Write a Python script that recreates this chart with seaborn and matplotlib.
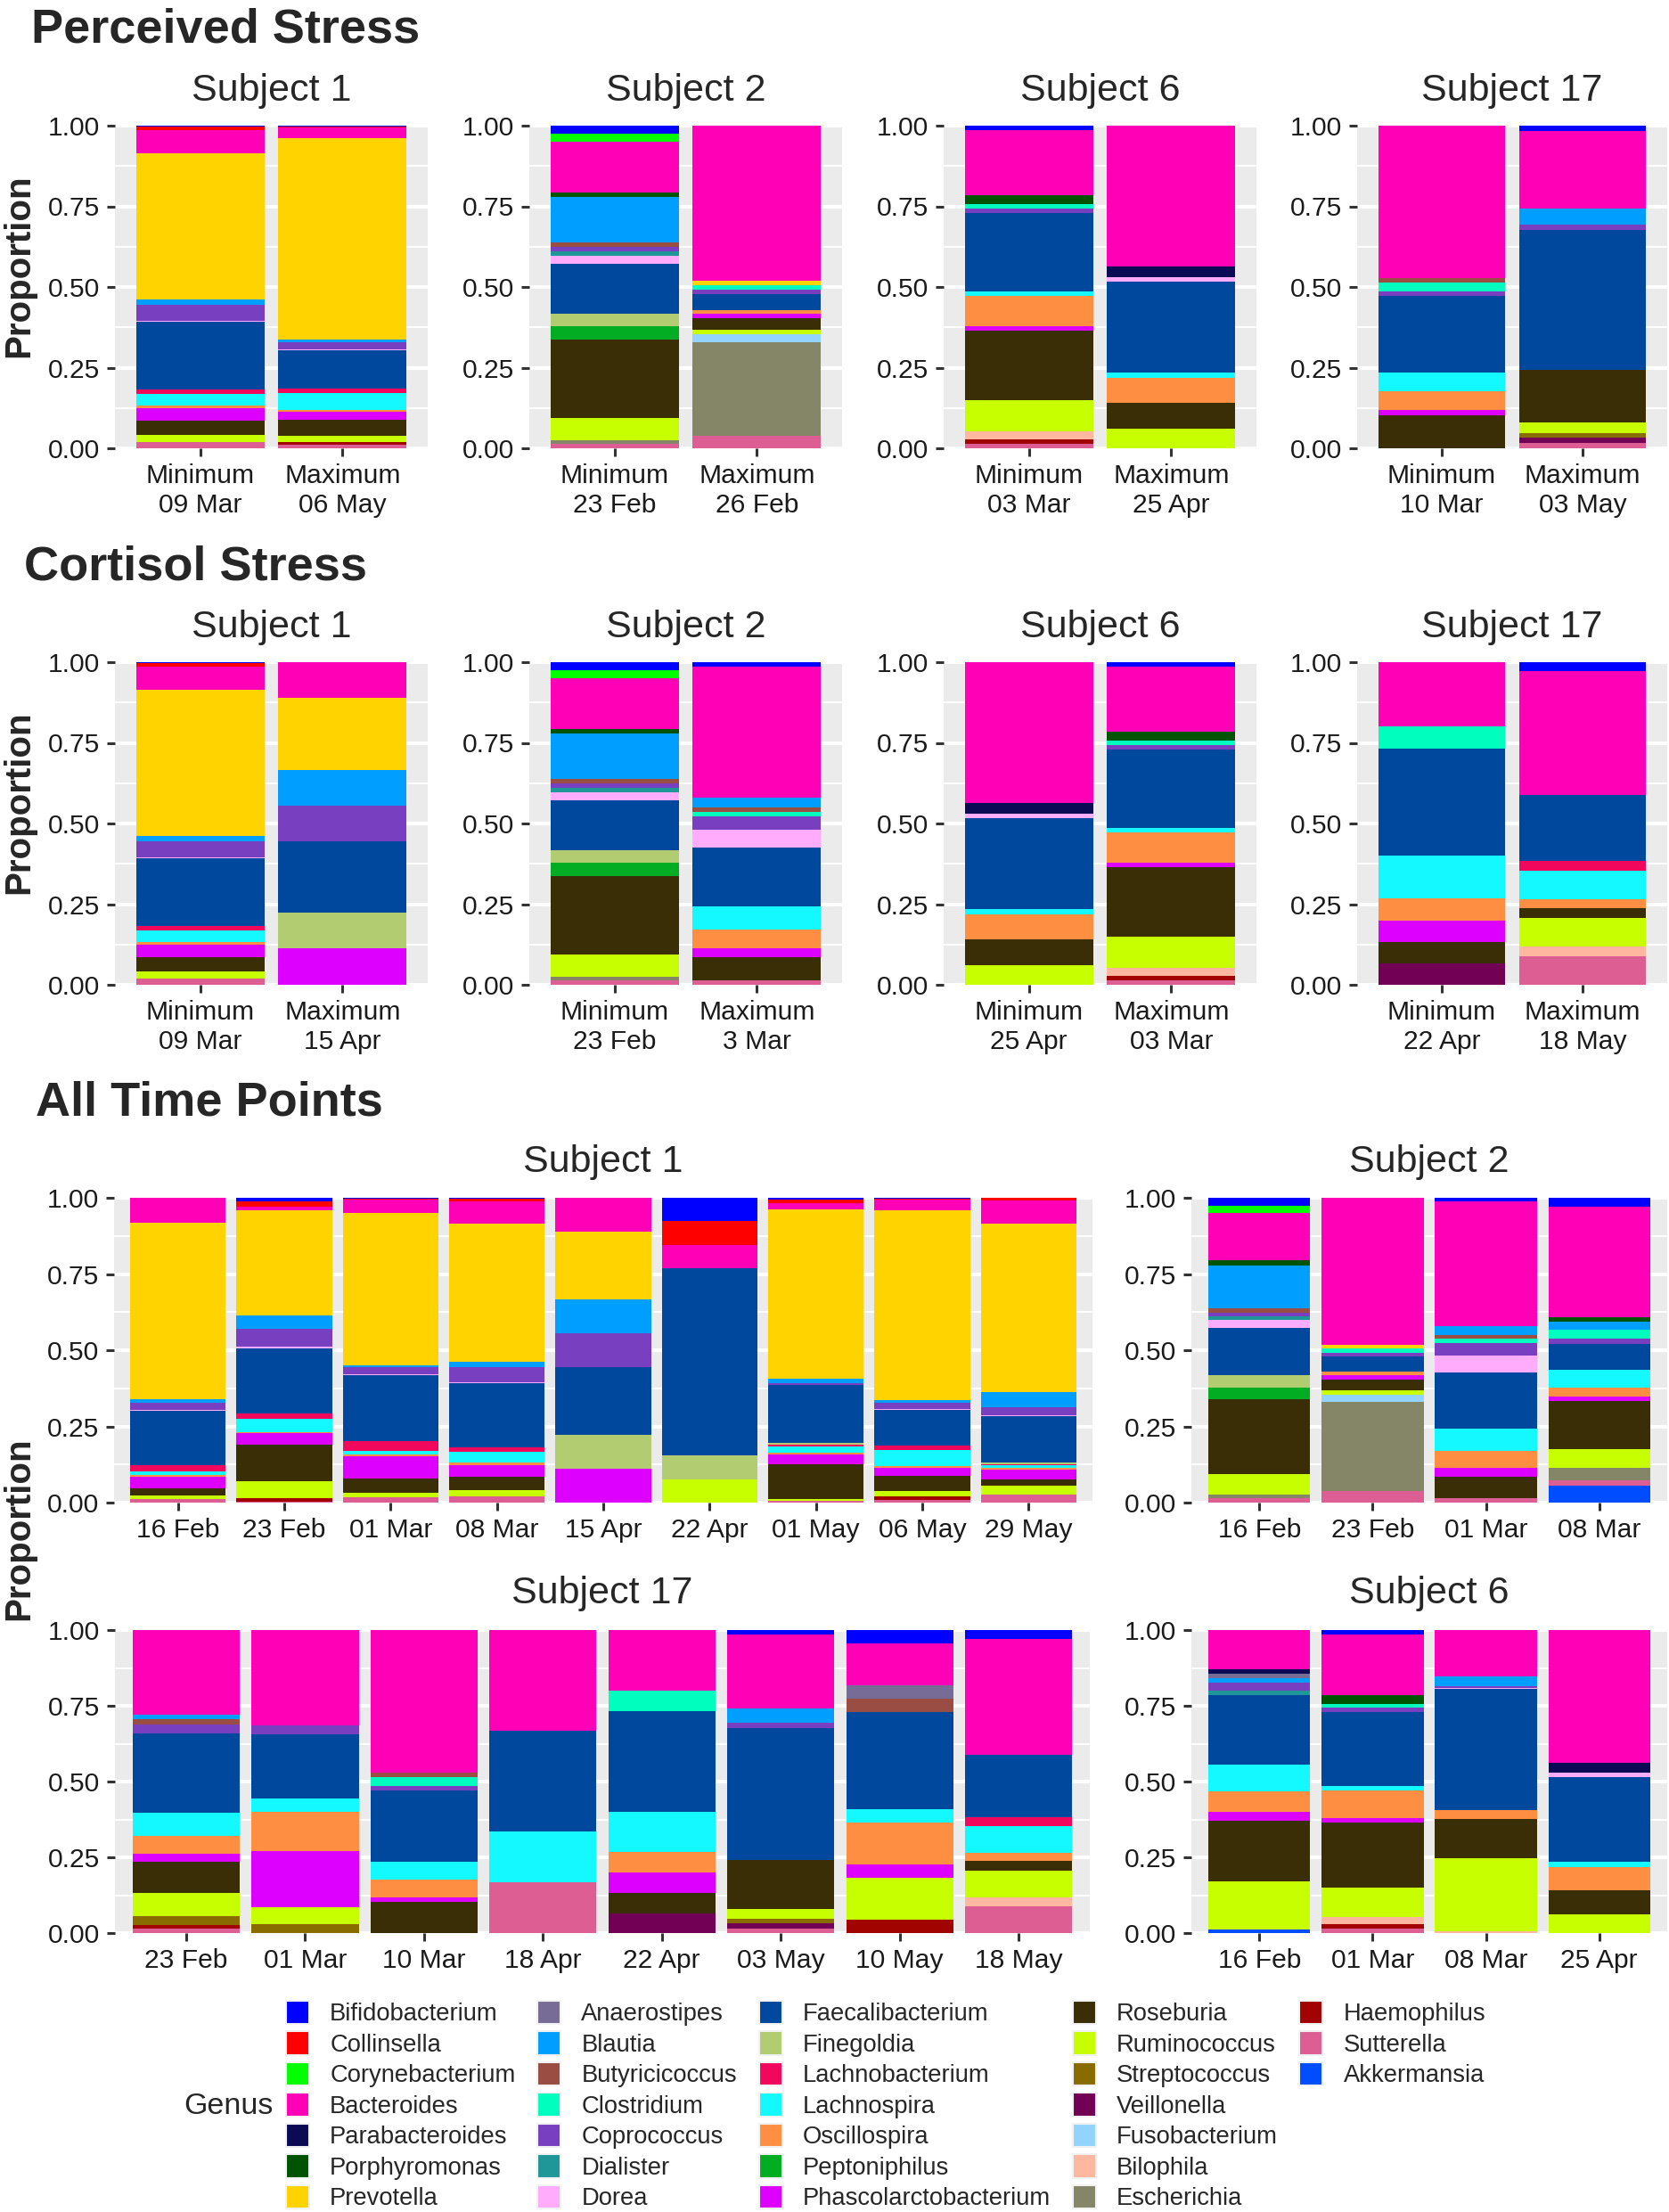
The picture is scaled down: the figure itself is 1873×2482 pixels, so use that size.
import pandas as pd
import seaborn as sns
import matplotlib.pyplot as plt
from matplotlib.patches import Patch

W, H = 1873, 2482

# Genus levels (legend order = top of stack first) and their colours
genera = ['Bifidobacterium', 'Collinsella', 'Corynebacterium', 'Bacteroides', 'Parabacteroides',
          'Porphyromonas', 'Prevotella', 'Anaerostipes', 'Blautia', 'Butyricicoccus', 'Clostridium',
          'Coprococcus', 'Dialister', 'Dorea', 'Faecalibacterium', 'Finegoldia', 'Lachnobacterium',
          'Lachnospira', 'Oscillospira', 'Peptoniphilus', 'Phascolarctobacterium', 'Roseburia',
          'Ruminococcus', 'Streptococcus', 'Veillonella', 'Fusobacterium', 'Bilophila', 'Escherichia',
          'Haemophilus', 'Sutterella', 'Akkermansia']
genus_colors = ['#0000FF', '#FF0000', '#00FF00', '#FF00B6', '#0A0A55', '#005300', '#FFD300', '#766C95',
                '#009FFF', '#9A4D42', '#00FFBE', '#783FC1', '#1F9698', '#FFACFD', '#00479E', '#B1CC71',
                '#F1085C', '#14F9FF', '#FE8F42', '#02AD24', '#DD00FF', '#3A2E07', '#C8FF00', '#886C00',
                '#720055', '#93D4FF', '#FFB79F', '#858567', '#A10300', '#DC5E93', '#004CFF']

# Genus proportions per sample
# Subject 1
s1_16feb = {'Bacteroides': 0.081, 'Prevotella': 0.581, 'Blautia': 0.011, 'Coprococcus': 0.022, 'Dorea': 0.003,
            'Faecalibacterium': 0.179, 'Lachnobacterium': 0.022, 'Lachnospira': 0.010, 'Oscillospira': 0.007,
            'Phascolarctobacterium': 0.037, 'Roseburia': 0.025, 'Ruminococcus': 0.010, 'Sutterella': 0.012}
s1_23feb = {'Bifidobacterium': 0.011, 'Collinsella': 0.018, 'Bacteroides': 0.012, 'Prevotella': 0.345,
            'Blautia': 0.045, 'Coprococcus': 0.057, 'Dorea': 0.006, 'Faecalibacterium': 0.214,
            'Lachnobacterium': 0.016, 'Lachnospira': 0.045, 'Oscillospira': 0.004, 'Phascolarctobacterium': 0.038,
            'Roseburia': 0.118, 'Ruminococcus': 0.057, 'Haemophilus': 0.012, 'Sutterella': 0.002}
s1_01mar = {'Bifidobacterium': 0.003, 'Collinsella': 0.004, 'Bacteroides': 0.042, 'Prevotella': 0.501,
            'Blautia': 0.007, 'Coprococcus': 0.023, 'Dorea': 0.003, 'Faecalibacterium': 0.216,
            'Lachnobacterium': 0.031, 'Lachnospira': 0.013, 'Oscillospira': 0.004, 'Phascolarctobacterium': 0.075,
            'Roseburia': 0.045, 'Ruminococcus': 0.016, 'Sutterella': 0.017}
s1_08mar = {'Bifidobacterium': 0.004, 'Collinsella': 0.010, 'Bacteroides': 0.073, 'Prevotella': 0.452,
            'Blautia': 0.017, 'Coprococcus': 0.050, 'Dorea': 0.003, 'Faecalibacterium': 0.210,
            'Lachnobacterium': 0.014, 'Lachnospira': 0.035, 'Oscillospira': 0.010, 'Phascolarctobacterium': 0.038,
            'Roseburia': 0.043, 'Ruminococcus': 0.022, 'Sutterella': 0.020}
s1_15apr = {'Bacteroides': 0.111, 'Prevotella': 0.222, 'Blautia': 0.111, 'Coprococcus': 0.111,
            'Faecalibacterium': 0.222, 'Finegoldia': 0.111, 'Phascolarctobacterium': 0.112}
s1_22apr = {'Bifidobacterium': 0.077, 'Collinsella': 0.077, 'Bacteroides': 0.077, 'Faecalibacterium': 0.615,
            'Finegoldia': 0.077, 'Ruminococcus': 0.077}
s1_01may = {'Bifidobacterium': 0.007, 'Collinsella': 0.010, 'Bacteroides': 0.020, 'Prevotella': 0.556,
            'Blautia': 0.016, 'Coprococcus': 0.005, 'Faecalibacterium': 0.189, 'Finegoldia': 0.008,
            'Lachnobacterium': 0.006, 'Lachnospira': 0.020, 'Oscillospira': 0.004, 'Phascolarctobacterium': 0.034,
            'Roseburia': 0.113, 'Ruminococcus': 0.006, 'Sutterella': 0.006}
s1_06may = {'Bifidobacterium': 0.002, 'Collinsella': 0.004, 'Bacteroides': 0.034, 'Prevotella': 0.624,
            'Blautia': 0.008, 'Coprococcus': 0.020, 'Dorea': 0.004, 'Faecalibacterium': 0.118,
            'Lachnobacterium': 0.014, 'Lachnospira': 0.052, 'Oscillospira': 0.006, 'Phascolarctobacterium': 0.025,
            'Roseburia': 0.050, 'Ruminococcus': 0.019, 'Haemophilus': 0.010, 'Sutterella': 0.010}
s1_29may = {'Collinsella': 0.010, 'Bacteroides': 0.074, 'Prevotella': 0.552, 'Blautia': 0.052,
            'Coprococcus': 0.025, 'Dorea': 0.004, 'Faecalibacterium': 0.152, 'Finegoldia': 0.005,
            'Lachnobacterium': 0.004, 'Lachnospira': 0.008, 'Oscillospira': 0.006, 'Phascolarctobacterium': 0.033,
            'Roseburia': 0.019, 'Ruminococcus': 0.030, 'Sutterella': 0.026}

# Subject 2
s2_16feb = {'Bifidobacterium': 0.025, 'Corynebacterium': 0.026, 'Bacteroides': 0.155, 'Porphyromonas': 0.015,
            'Blautia': 0.141, 'Butyricicoccus': 0.014, 'Coprococcus': 0.013, 'Dialister': 0.013, 'Dorea': 0.025,
            'Faecalibacterium': 0.155, 'Finegoldia': 0.040, 'Peptoniphilus': 0.040, 'Roseburia': 0.245,
            'Ruminococcus': 0.068, 'Escherichia': 0.010, 'Sutterella': 0.015}
s2_23feb = {'Bacteroides': 0.482, 'Prevotella': 0.013, 'Clostridium': 0.013, 'Coprococcus': 0.013,
            'Faecalibacterium': 0.050, 'Oscillospira': 0.012, 'Phascolarctobacterium': 0.013, 'Roseburia': 0.037,
            'Ruminococcus': 0.013, 'Fusobacterium': 0.025, 'Escherichia': 0.290, 'Sutterella': 0.039}
s2_01mar = {'Bifidobacterium': 0.013, 'Bacteroides': 0.407, 'Blautia': 0.029, 'Butyricicoccus': 0.014,
            'Clostridium': 0.014, 'Coprococcus': 0.042, 'Dorea': 0.055, 'Faecalibacterium': 0.184,
            'Lachnospira': 0.071, 'Oscillospira': 0.057, 'Phascolarctobacterium': 0.029, 'Roseburia': 0.071,
            'Sutterella': 0.014}
s2_08mar = {'Bifidobacterium': 0.029, 'Bacteroides': 0.363, 'Porphyromonas': 0.015, 'Blautia': 0.026,
            'Clostridium': 0.030, 'Coprococcus': 0.016, 'Faecalibacterium': 0.086, 'Lachnospira': 0.059,
            'Oscillospira': 0.028, 'Phascolarctobacterium': 0.015, 'Roseburia': 0.159, 'Ruminococcus': 0.060,
            'Escherichia': 0.042, 'Sutterella': 0.016, 'Akkermansia': 0.056}

# Subject 6
s6_16feb = {'Bacteroides': 0.129, 'Parabacteroides': 0.016, 'Anaerostipes': 0.013, 'Blautia': 0.015,
            'Coprococcus': 0.028, 'Dialister': 0.015, 'Faecalibacterium': 0.229, 'Lachnospira': 0.086,
            'Oscillospira': 0.070, 'Phascolarctobacterium': 0.029, 'Roseburia': 0.200, 'Ruminococcus': 0.157,
            'Akkermansia': 0.013}
s6_01mar = {'Bifidobacterium': 0.014, 'Bacteroides': 0.201, 'Porphyromonas': 0.028, 'Clostridium': 0.013,
            'Coprococcus': 0.015, 'Faecalibacterium': 0.243, 'Lachnospira': 0.014, 'Oscillospira': 0.094,
            'Phascolarctobacterium': 0.014, 'Roseburia': 0.214, 'Ruminococcus': 0.097, 'Bilophila': 0.025,
            'Haemophilus': 0.013, 'Sutterella': 0.015}
s6_08mar = {'Bacteroides': 0.152, 'Blautia': 0.032, 'Coprococcus': 0.007, 'Dorea': 0.004,
            'Faecalibacterium': 0.400, 'Oscillospira': 0.028, 'Roseburia': 0.129, 'Ruminococcus': 0.241,
            'Bilophila': 0.007}
s6_25apr = {'Bacteroides': 0.437, 'Parabacteroides': 0.033, 'Dorea': 0.014, 'Faecalibacterium': 0.282,
            'Lachnospira': 0.016, 'Oscillospira': 0.078, 'Roseburia': 0.078, 'Ruminococcus': 0.062}

# Subject 17
s17_23feb = {'Bacteroides': 0.280, 'Blautia': 0.015, 'Butyricicoccus': 0.016, 'Coprococcus': 0.029,
             'Faecalibacterium': 0.264, 'Lachnospira': 0.074, 'Oscillospira': 0.059, 'Phascolarctobacterium': 0.029,
             'Roseburia': 0.103, 'Ruminococcus': 0.074, 'Streptococcus': 0.030, 'Haemophilus': 0.013,
             'Sutterella': 0.014}
s17_01mar = {'Bacteroides': 0.315, 'Coprococcus': 0.028, 'Faecalibacterium': 0.214, 'Lachnospira': 0.043,
             'Oscillospira': 0.129, 'Phascolarctobacterium': 0.186, 'Ruminococcus': 0.057, 'Streptococcus': 0.028}
s17_10mar = {'Bacteroides': 0.472, 'Butyricicoccus': 0.014, 'Clostridium': 0.028, 'Coprococcus': 0.015,
             'Faecalibacterium': 0.235, 'Lachnospira': 0.059, 'Oscillospira': 0.059, 'Phascolarctobacterium': 0.015,
             'Roseburia': 0.103}
s17_18apr = {'Bacteroides': 0.333, 'Faecalibacterium': 0.333, 'Lachnospira': 0.167, 'Sutterella': 0.167}
s17_22apr = {'Bacteroides': 0.200, 'Clostridium': 0.067, 'Faecalibacterium': 0.333, 'Lachnospira': 0.133,
             'Oscillospira': 0.067, 'Phascolarctobacterium': 0.067, 'Roseburia': 0.067, 'Veillonella': 0.066}
s17_03may = {'Bifidobacterium': 0.016, 'Bacteroides': 0.242, 'Blautia': 0.049, 'Coprococcus': 0.016,
             'Faecalibacterium': 0.435, 'Roseburia': 0.162, 'Ruminococcus': 0.032, 'Streptococcus': 0.016,
             'Veillonella': 0.016, 'Sutterella': 0.016}
s17_10may = {'Bifidobacterium': 0.045, 'Bacteroides': 0.136, 'Anaerostipes': 0.046, 'Butyricicoccus': 0.045,
             'Faecalibacterium': 0.318, 'Lachnospira': 0.046, 'Oscillospira': 0.137, 'Phascolarctobacterium': 0.045,
             'Ruminococcus': 0.137, 'Haemophilus': 0.045}
s17_18may = {'Bifidobacterium': 0.029, 'Bacteroides': 0.382, 'Faecalibacterium': 0.206, 'Lachnobacterium': 0.029,
             'Lachnospira': 0.088, 'Oscillospira': 0.029, 'Roseburia': 0.030, 'Ruminococcus': 0.089,
             'Bilophila': 0.029, 'Sutterella': 0.089}

# Panels: (subject title, [(tick label, sample)])
perceived = [('Subject 1', [('Minimum\n09 Mar', s1_08mar), ('Maximum\n06 May', s1_06may)]),
             ('Subject 2', [('Minimum\n23 Feb', s2_16feb), ('Maximum\n26 Feb', s2_23feb)]),
             ('Subject 6', [('Minimum\n03 Mar', s6_01mar), ('Maximum\n25 Apr', s6_25apr)]),
             ('Subject 17', [('Minimum\n10 Mar', s17_10mar), ('Maximum\n03 May', s17_03may)])]
cortisol = [('Subject 1', [('Minimum\n09 Mar', s1_08mar), ('Maximum\n15 Apr', s1_15apr)]),
            ('Subject 2', [('Minimum\n23 Feb', s2_16feb), ('Maximum\n3 Mar', s2_01mar)]),
            ('Subject 6', [('Minimum\n25 Apr', s6_25apr), ('Maximum\n03 Mar', s6_01mar)]),
            ('Subject 17', [('Minimum\n22 Apr', s17_22apr), ('Maximum\n18 May', s17_18may)])]
all_s1 = [('16 Feb', s1_16feb), ('23 Feb', s1_23feb), ('01 Mar', s1_01mar), ('08 Mar', s1_08mar),
          ('15 Apr', s1_15apr), ('22 Apr', s1_22apr), ('01 May', s1_01may), ('06 May', s1_06may),
          ('29 May', s1_29may)]
all_s2 = [('16 Feb', s2_16feb), ('23 Feb', s2_23feb), ('01 Mar', s2_01mar), ('08 Mar', s2_08mar)]
all_s17 = [('23 Feb', s17_23feb), ('01 Mar', s17_01mar), ('10 Mar', s17_10mar), ('18 Apr', s17_18apr),
           ('22 Apr', s17_22apr), ('03 May', s17_03may), ('10 May', s17_10may), ('18 May', s17_18may)]
all_s6 = [('16 Feb', s6_16feb), ('01 Mar', s6_01mar), ('08 Mar', s6_08mar), ('25 Apr', s6_25apr)]

sns.set_theme(style='darkgrid', rc={'axes.facecolor': '#EBEBEB', 'grid.color': 'white'})
plt.rcParams['font.family'] = ['Liberation Sans', 'DejaVu Sans']

palette = dict(zip(genera, genus_colors))
TICK = 21.6

fig = plt.figure(figsize=(W / 100, H / 100), dpi=100)


def draw_panel(x0, x1, y0, y1, bars, title=None, title_y=None):
    ax = fig.add_axes([x0 / W, 1 - y1 / H, (x1 - x0) / W, (y1 - y0) / H])
    rows = []
    for lab, sample in bars:
        for g in genera:
            if g in sample:
                rows.append((lab, g, sample[g]))
    df = pd.DataFrame(rows, columns=['sample', 'genus', 'prop'])
    present = [g for g in genera if g in set(df['genus'])]
    sns.histplot(data=df, x='sample', weights='prop', hue='genus', hue_order=present,
                 palette=palette, multiple='stack', discrete=True, shrink=0.9,
                 linewidth=0, alpha=1, legend=False, ax=ax)
    n = len(bars)
    ax.set_xlim(-0.6, n - 0.4)
    ax.set_ylim(0, 1)
    ax.set_xticks(range(n))
    ax.set_xticklabels([b[0] for b in bars], fontsize=TICK, linespacing=1.22, color='#1A1A1A')
    ax.set_yticks([0, 0.25, 0.5, 0.75, 1])
    ax.set_yticklabels(['0.00', '0.25', '0.50', '0.75', '1.00'], fontsize=TICK, color='#1A1A1A')
    ax.set_yticks([0.125, 0.375, 0.625, 0.875], minor=True)
    ax.grid(False)
    ax.grid(axis='y', which='major', color='white', linewidth=3)
    ax.grid(axis='y', which='minor', color='white', linewidth=1.5)
    ax.set_axisbelow(True)
    ax.tick_params(axis='both', which='major', left=True, bottom=True, length=6.5, width=2.2,
                   color='#333333', pad=6)
    ax.tick_params(axis='y', which='minor', left=False)
    ax.set_xlabel('')
    ax.set_ylabel('')
    for s in ax.spines.values():
        s.set_visible(False)
    if title:
        fig.text((x0 + x1) / 2 / W, 1 - title_y / H, title, fontsize=31, ha='center', va='baseline')
    return ax


# Perceived / Cortisol rows
lefts = [129, 594, 1059, 1523]
for (subj, bars), x0 in zip(perceived, lefts):
    draw_panel(x0, min(x0 + 351, 1871), 141, 503, bars, subj, 113)
for (subj, bars), x0 in zip(cortisol, lefts):
    draw_panel(x0, min(x0 + 351, 1871), 743, 1105, bars, subj, 715)

# All time points
draw_panel(128, 1226, 1344, 1686, all_s1, 'Subject 1', 1315)
draw_panel(1337, 1871, 1344, 1686, all_s2, 'Subject 2', 1315)
draw_panel(129, 1223, 1829, 2169, all_s17, 'Subject 17', 1799)
draw_panel(1337, 1871, 1829, 2169, all_s6, 'Subject 6', 1799)

# Section titles
fig.text(35 / W, 1 - 48 / H, 'Perceived Stress', fontsize=39, fontweight='bold', va='baseline')
fig.text(27 / W, 1 - 651 / H, 'Cortisol Stress', fontsize=39, fontweight='bold', va='baseline')
fig.text(40 / W, 1 - 1251 / H, 'All Time Points', fontsize=39, fontweight='bold', va='baseline')

for yc in [298, 900, 1715]:
    fig.text(21 / W, 1 - yc / H, 'Proportion', fontsize=29, fontweight='bold', rotation=90,
             ha='center', va='center')

# Legend (5 columns, filled column-wise)
handles = [Patch(facecolor=c, edgecolor='#F2F2F2', linewidth=1.5, label=g)
           for g, c in zip(genera, genus_colors)]
handles += [Patch(facecolor='none', edgecolor='none', label='') for _ in range(4)]
fig.legend(handles=handles, ncol=5, loc='upper left', bbox_to_anchor=(321 / W, 1 - 2245 / H),
           frameon=False, fontsize=19.7, handlelength=0.95, handleheight=1.1, labelspacing=0.22,
           columnspacing=0.9, handletextpad=0.85, borderpad=0, borderaxespad=0)
fig.text(206 / W, 1 - 2363 / H, 'Genus', fontsize=24.5, va='center')

fig.savefig('out.png', dpi=100)
